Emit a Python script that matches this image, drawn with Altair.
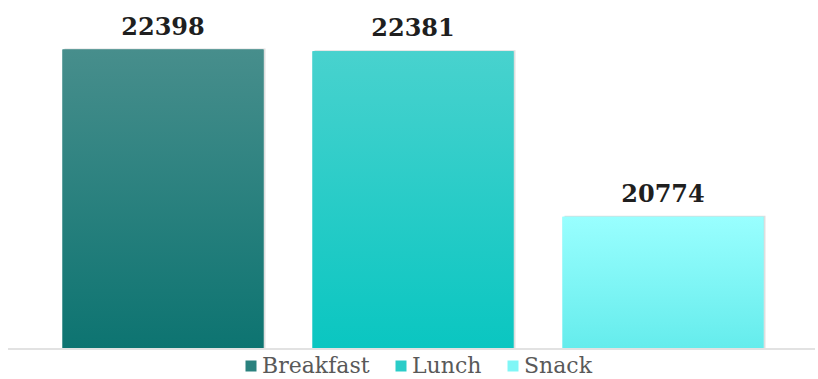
import altair as alt
import pandas as pd

categories = ["Breakfast", "Lunch", "Snack"]
values = [22398, 22381, 20774]
top_colors = ["#478E8C", "#48D2CE", "#99FFFF"]
bottom_colors = ["#0D7471", "#0AC6C1", "#65ECEC"]
legend_colors = ["#2A817E", "#2ACCC8", "#80F6F6"]
y_domain = [19500, 22500]

df = pd.DataFrame({"meal": categories, "count": values, "base": [y_domain[0]] * 3})
one = pd.DataFrame({"k": [0]})

x = alt.X("meal:N", sort=categories, axis=None,
          scale=alt.Scale(domain=categories, paddingInner=0.196, paddingOuter=0.098))
y = alt.Y("count:Q", axis=None,
          scale=alt.Scale(domain=y_domain, zero=False, nice=False))
y2 = alt.Y2("base:Q")

shadow = alt.Chart(df).mark_bar(color="#000000", opacity=0.13, xOffset=2, yOffset=-1).encode(x=x, y=y, y2=y2)

legend_bars = alt.Chart(df).mark_bar().encode(
    x=x, y=y, y2=y2,
    color=alt.Color(
        "meal:N", sort=categories,
        scale=alt.Scale(domain=categories, range=legend_colors),
        legend=alt.Legend(
            orient="none", legendX=202, legendY=316, direction="horizontal",
            title=None, symbolType="square", symbolSize=121, symbolStrokeWidth=0,
            labelFont="DejaVu Serif", labelFontSize=22, labelColor="#595959",
            columnPadding=20, labelOffset=0, symbolOpacity=1,
        ),
    ),
)

grad_layers = []
for cat, top, bot in zip(categories, top_colors, bottom_colors):
    grad = alt.Gradient(
        gradient="linear",
        stops=[alt.GradientStop(color=top, offset=0), alt.GradientStop(color=bot, offset=1)],
        x1=0, x2=0, y1=0, y2=1,
    )
    grad_layers.append(
        alt.Chart(df).transform_filter(alt.datum.meal == cat)
        .mark_bar(fill=grad).encode(x=x, y=y, y2=y2)
    )

labels = alt.Chart(df).mark_text(
    font="DejaVu Serif", fontWeight="bold", fontSize=24,
    baseline="alphabetic", dy=-15, color="#1F1F1F",
).encode(x=x, y=y, text=alt.Text("count:Q", format="d"))

axis_line = alt.Chart(one).mark_rule(color="#D9D9D9", strokeWidth=1.5).encode(
    x=alt.value(-30), x2=alt.value(777), y=alt.value(310)
)

chart = alt.layer(shadow, legend_bars, *grad_layers, axis_line, labels).properties(
    width=750, height=309,
    padding={"left": 38, "top": 39, "right": 30, "bottom": 31},
    autosize="none",
).configure_view(stroke=None)

chart.save("out.html", embed_options={"renderer": "svg", "actions": False})
